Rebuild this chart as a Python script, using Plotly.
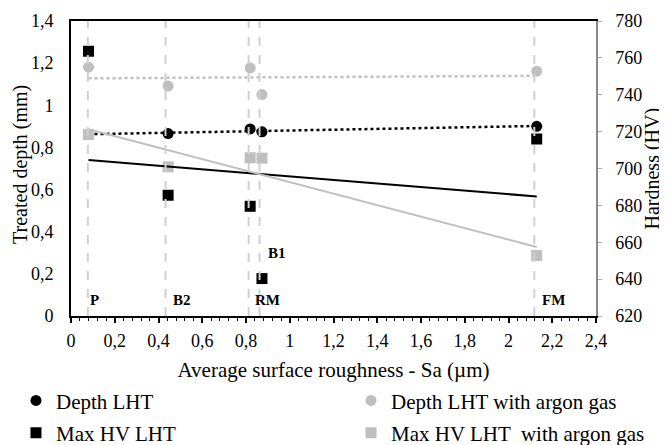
import numpy as np
import plotly.graph_objects as go

# ---- data ----
sa = [0.080, 0.444, 0.819, 0.873, 2.129]            # average surface roughness Sa (µm)
depth_lht = [0.861, 0.866, 0.888, 0.874, 0.900]     # treated depth (mm)
depth_argon = [1.181, 1.091, 1.178, 1.051, 1.162]   # treated depth with argon (mm)
hv_lht = [763.6, 685.5, 679.5, 640.3, 716.0]        # max HV
hv_argon = [718.4, 700.9, 705.8, 705.6, 652.8]      # max HV with argon

specimen_names = ["P", "B2", "RM", "B1", "FM"]
specimen_sa = [0.077, 0.432, 0.812, 0.862, 2.118]

x_ticks = [0, 0.2, 0.4, 0.6, 0.8, 1.0, 1.2, 1.4, 1.6, 1.8, 2.0, 2.2, 2.4]
x_ticktext = ["0", "0,2", "0,4", "0,6", "0,8", "1", "1,2", "1,4", "1,6", "1,8", "2", "2,2", "2,4"]
y_ticks = [0, 0.2, 0.4, 0.6, 0.8, 1.0, 1.2, 1.4]
y_ticktext = ["0", "0,2", "0,4", "0,6", "0,8", "1", "1,2", "1,4"]
y2_ticks = [620, 640, 660, 680, 700, 720, 740, 760, 780]

# label placement (layout only)
label_pos = {"P": (0.108, 0.078), "B2": (0.508, 0.078), "RM": (0.90, 0.078),
             "B1": (0.94, 0.30), "FM": (2.205, 0.078)}

BLACK = "#000000"
GRAY = "#bfbfbf"
FONT = "Liberation Serif, Times New Roman, Times, serif"

fig = go.Figure()

fig.add_trace(go.Scatter(x=sa, y=depth_lht, mode="markers", name="Depth LHT",
                         marker=dict(symbol="circle", size=11, color=BLACK), yaxis="y",
                         legend="legend", legendgroup="a"))
fig.add_trace(go.Scatter(x=sa, y=depth_argon, mode="markers", name="Depth LHT with argon gas",
                         marker=dict(symbol="circle", size=11, color=GRAY), yaxis="y",
                         legend="legend2", legendgroup="c"))
fig.add_trace(go.Scatter(x=sa, y=hv_lht, mode="markers", name="Max HV LHT",
                         marker=dict(symbol="square", size=11, color=BLACK), yaxis="y2",
                         legend="legend", legendgroup="b"))
fig.add_trace(go.Scatter(x=sa, y=hv_argon, mode="markers", name="Max HV LHT  with argon gas",
                         marker=dict(symbol="square", size=11, color=GRAY), yaxis="y2",
                         legend="legend2", legendgroup="d"))

# linear trend lines (least squares from the data)
xs = np.array([min(sa), max(sa)])
for yv, color, dash, ax in [(depth_lht, BLACK, "dot", "y"), (depth_argon, GRAY, "dot", "y"),
                            (hv_lht, BLACK, "solid", "y2"), (hv_argon, GRAY, "solid", "y2")]:
    k, b = np.polyfit(sa, yv, 1)
    fig.add_trace(go.Scatter(x=xs, y=k * xs + b, mode="lines", showlegend=False, hoverinfo="skip",
                             line=dict(color=color, width=2.5 if dash == "dot" else 2, dash=dash),
                             yaxis=ax))

# vertical dashed specimen lines (drawn above markers)
for xv in specimen_sa:
    fig.add_shape(type="line", xref="x", yref="y", x0=xv, x1=xv, y0=0, y1=1.4,
                  line=dict(color="#d0d0d0", width=2, dash="dash"), layer="above")

for name in specimen_names:
    lx, ly = label_pos[name]
    fig.add_annotation(x=lx, y=ly, xref="x", yref="y", text="<b>%s</b>" % name, showarrow=False,
                       font=dict(family=FONT, size=15, color=BLACK))

# y-axis titles
fig.add_annotation(x=0, y=0.512, xref="paper", yref="paper", xshift=-50, xanchor="center",
                   yanchor="middle", text="Treated depth (mm)", textangle=-90, showarrow=False,
                   font=dict(family=FONT, size=20, color=BLACK))
fig.add_annotation(x=1, y=0.5, xref="paper", yref="paper", xshift=56, xanchor="center",
                   yanchor="middle", text="Hardness (HV)", textangle=-90, showarrow=False,
                   font=dict(family=FONT, size=20, color=BLACK))

# The page has an 8px body margin, so the figure is 659x437 and sits at (8, 8).
legend_common = dict(orientation="v", xref="container", yref="container", xanchor="left",
                     y=0.148, yanchor="top", font=dict(family=FONT, size=21),
                     bgcolor="rgba(0,0,0,0)", tracegroupgap=2, borderwidth=0)

fig.update_layout(
    width=659, height=437,
    margin=dict(l=63, r=71, t=13, b=129, autoexpand=False),
    paper_bgcolor="white", plot_bgcolor="white",
    font=dict(family=FONT, size=18, color=BLACK),
    separators=", ",
    xaxis=dict(range=[0, 2.4], tickvals=x_ticks, ticktext=x_ticktext, showgrid=False, zeroline=False,
               showline=True, linecolor=BLACK, linewidth=2, mirror=True, automargin=False,
               ticks="outside", ticklen=5, tickwidth=1.5, tickcolor=BLACK, ticklabelstandoff=2,
               minor=dict(dtick=0.04, ticks="outside", ticklen=3, tickwidth=1.2, tickcolor=BLACK),
               tickfont=dict(family=FONT, size=18),
               title=dict(text="Average surface roughness - Sa (µm)", font=dict(family=FONT, size=21),
                          standoff=13)),
    yaxis=dict(range=[0, 1.4], tickvals=y_ticks, ticktext=y_ticktext, showgrid=False, zeroline=False,
               showline=True, linecolor=BLACK, linewidth=2, ticks="", ticklabelstandoff=12,
               automargin=False, tickfont=dict(family=FONT, size=18)),
    yaxis2=dict(range=[620, 780], tickvals=y2_ticks, overlaying="y", side="right", showgrid=False,
                zeroline=False, showline=True, linecolor="#888888", linewidth=1.5, automargin=False,
                ticks="outside", ticklen=4, tickcolor="#aaaaaa", tickwidth=1, ticklabelstandoff=10,
                tickfont=dict(family=FONT, size=18)),
    legend=dict(x=0.0121, **legend_common),
    legend2=dict(x=0.5205, **legend_common),
    showlegend=True,
)

fig.write_html("out.html", config={"displayModeBar": False})
